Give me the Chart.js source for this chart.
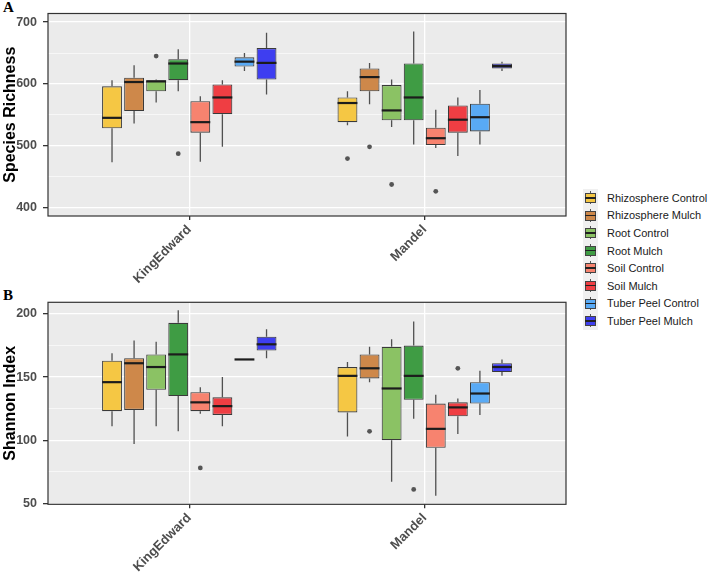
<!DOCTYPE html>
<html lang="en">
<head>
    <meta charset="UTF-8">
    <title>Species Richness and Shannon Index</title>
    <script src="https://cdn.jsdelivr.net/npm/chart.js"></script>
    <style>
        body {
            margin: 0;
            background: #fff;
            font-family: "Liberation Sans", Arial, sans-serif;
        }
        #wrap {
            position: relative;
            width: 709px;
            height: 577px;
        }
        #wrap canvas {
            position: absolute;
            left: 0;
        }
        .panel-label {
            position: absolute;
            left: 3px;
            font-family: "Liberation Serif", "DejaVu Serif", serif;
            font-weight: bold;
            font-size: 15px;
            line-height: 1;
        }
        #legend {
            position: absolute;
            left: 583px;
            top: 189px;
            white-space: nowrap;
        }
        .row {
            display: flex;
            align-items: center;
            height: 17.6px;
        }
        .key {
            position: relative;
            width: 15px;
            height: 17.6px;
            background: #f0f0f0;
            margin-right: 9px;
            flex: none;
        }
        .key .wh {
            position: absolute;
            left: 7px;
            top: 2px;
            width: 1px;
            height: 13px;
            background: #555;
        }
        .key .bx {
            position: absolute;
            left: 2px;
            top: 4px;
            width: 9px;
            height: 8px;
            border: 1px solid #444;
        }
        .key .md {
            position: absolute;
            left: 2px;
            top: 8px;
            width: 11px;
            height: 1.5px;
            background: #222;
        }
        .row span {
            font-size: 11px;
            color: #1a1a1a;
        }
    </style>
</head>
<body>
<div id="wrap">
    <div class="panel-label" style="top:0px">A</div>
    <div class="panel-label" style="top:288px">B</div>
    <canvas id="richChart" width="580" height="285" style="top:0px"></canvas>
    <canvas id="shanChart" width="580" height="292" style="top:285px"></canvas>
    <div id="legend"></div>
</div>

<script>
// groups (fill) and cultivars (x categories)
const groups = ['Rhizosphere Control', 'Rhizosphere Mulch', 'Root Control', 'Root Mulch',
                'Soil Control', 'Soil Mulch', 'Tuber Peel Control', 'Tuber Peel Mulch'];
const cultivars = ['KingEdward', 'Mandel'];
const groupColors = ['#F5C744', '#CE884A', '#8BC264', '#3F9C44',
                     '#F7836F', '#EF3E43', '#59AAF5', '#3E3EF0'];

// Species Richness, [cultivar][group]
const richMin = [[473, 536, 570, 588, 474, 498, 621, 583], [533, 567, 530, 502, 496, 483, 502, 621]];
const richQ1  = [[528, 556, 588, 606, 521, 551, 628, 607], [538, 588, 541, 541, 501, 521, 523, 625]];
const richMed = [[545, 603, 604, 633, 538, 578, 636, 634], [569, 611, 557, 578, 512, 542, 546, 629]];
const richQ3  = [[596, 610, 606, 640, 572, 599, 643, 658], [578, 625, 598, 633, 529, 565, 568, 633]];
const richMax = [[606, 630, 607, 656, 580, 606, 650, 683], [588, 634, 607, 685, 558, 578, 590, 636]];
// outliers: [cultivar, group, value]
const richOut = [[0, 2, 645], [0, 3, 487], [1, 0, 479], [1, 1, 498], [1, 2, 437], [1, 4, 426]];
const richTicks = [400, 500, 600, 700];

// Shannon Index, [cultivar][group]
const shanMin = [[111, 97, 111, 107, 121, 111, 164, 165], [103, 146, 67, 117, 56, 105, 120, 151]];
const shanQ1  = [[123, 124, 140, 135, 123, 120, 164, 171], [122, 149, 100, 132, 94, 119, 129, 154]];
const shanMed = [[146, 161, 158, 168, 130, 127, 164, 176], [151, 157, 141, 151, 109, 126, 137, 158]];
const shanQ3  = [[163, 165, 168, 193, 138, 134, 164, 182], [158, 168, 174, 175, 129, 130, 146, 161]];
const shanMax = [[169, 179, 178, 203, 142, 150, 164, 188], [162, 174, 180, 194, 136, 133, 155, 164]];
const shanOut = [[0, 4, 78], [1, 1, 107], [1, 3, 61], [1, 5, 157]];
const shanTicks = [50, 100, 150, 200];

// dodge: 8 boxes share 0.75 of each category slot
const dodgeWidth = 0.75;
function boxPos(c, g) {
    return (c + 1) - dodgeWidth / 2 + (g + 0.5) * dodgeWidth / groups.length;
}

const boxParts = {
    id: 'boxParts',
    beforeDraw(chart) {
        const a = chart.chartArea, ctx = chart.ctx;
        ctx.save();
        ctx.fillStyle = '#EBEBEB';
        ctx.fillRect(a.left, a.top, a.right - a.left, a.bottom - a.top);
        ctx.restore();
    },
    beforeDatasetsDraw(chart) {
        const st = chart.options.plugins.boxParts, y = chart.scales.y, ctx = chart.ctx;
        ctx.save();
        ctx.strokeStyle = '#505050';
        ctx.lineWidth = 1.3;
        groups.forEach((g, gi) => {
            chart.getDatasetMeta(gi).data.forEach((el, ci) => {
                ctx.beginPath();
                ctx.moveTo(el.x, y.getPixelForValue(st.max[ci][gi]));
                ctx.lineTo(el.x, y.getPixelForValue(st.q3[ci][gi]));
                ctx.moveTo(el.x, y.getPixelForValue(st.q1[ci][gi]));
                ctx.lineTo(el.x, y.getPixelForValue(st.min[ci][gi]));
                ctx.stroke();
            });
        });
        ctx.restore();
    },
    afterDatasetsDraw(chart) {
        const st = chart.options.plugins.boxParts, y = chart.scales.y, ctx = chart.ctx;
        ctx.save();
        ctx.strokeStyle = '#1c1c1c';
        ctx.lineWidth = 2.2;
        groups.forEach((g, gi) => {
            chart.getDatasetMeta(gi).data.forEach((el, ci) => {
                const py = y.getPixelForValue(st.med[ci][gi]);
                ctx.beginPath();
                ctx.moveTo(el.x - el.width / 2, py);
                ctx.lineTo(el.x + el.width / 2, py);
                ctx.stroke();
            });
        });
        const a = chart.chartArea;
        ctx.strokeStyle = '#333';
        ctx.lineWidth = 1.2;
        ctx.strokeRect(a.left, a.top, a.right - a.left, a.bottom - a.top);
        ctx.restore();
    }
};

function makeChart(id, st, out, majors, yMin, yMax, step, title, padTop, xHeight) {
    const datasets = groups.map((g, gi) => ({
        type: 'bar',
        label: g,
        data: cultivars.map((c, ci) => ({ x: boxPos(ci, gi), y: [st.q1[ci][gi], st.q3[ci][gi]] })),
        backgroundColor: groupColors[gi],
        borderColor: '#3a3a3a',
        borderWidth: 1.1,
        borderSkipped: false,
        grouped: false,
        categoryPercentage: 1,
        barPercentage: 0.9,
        order: 2
    }));
    datasets.push({
        type: 'scatter',
        label: 'outliers',
        data: out.map(o => ({ x: boxPos(o[0], o[1]), y: o[2] })),
        backgroundColor: '#555',
        borderWidth: 0,
        pointRadius: 2.4,
        order: 1
    });

    return new Chart(document.getElementById(id), {
        type: 'bar',
        data: { datasets: datasets },
        options: {
            responsive: false,
            animation: false,
            layout: { padding: { top: padTop, right: 14, left: 0, bottom: 0 } },
            plugins: {
                legend: { display: false },
                tooltip: { enabled: false },
                boxParts: st
            },
            scales: {
                x: {
                    type: 'linear',
                    min: 0.4,
                    max: 2.6,
                    offset: false,
                    afterBuildTicks: s => { s.ticks = [{ value: 1 }, { value: 2 }]; },
                    afterFit: s => { s.height = xHeight; },
                    border: { display: false },
                    grid: { offset: false, color: '#fff', lineWidth: 1.3, tickColor: '#333', tickLength: 4 },
                    ticks: {
                        autoSkip: false,
                        minRotation: 45,
                        maxRotation: 45,
                        padding: 2,
                        color: '#4D4D4D',
                        font: { family: 'Liberation Sans', size: 13, weight: 'bold' },
                        callback: v => cultivars[Math.round(v) - 1]
                    }
                },
                y: {
                    min: yMin,
                    max: yMax,
                    afterFit: s => { s.width = 48; },
                    border: { display: false },
                    grid: {
                        color: '#fff',
                        lineWidth: c => (c.tick && majors.includes(c.tick.value)) ? 1.3 : 0.6,
                        tickColor: c => (c.tick && majors.includes(c.tick.value)) ? '#333' : 'rgba(0,0,0,0)',
                        tickLength: 5
                    },
                    ticks: {
                        stepSize: step,
                        includeBounds: false,
                        padding: 6,
                        color: '#4D4D4D',
                        font: { family: 'Liberation Sans', size: 12.5, weight: 'bold' },
                        callback: v => majors.includes(v) ? String(v) : ''
                    },
                    title: {
                        display: true,
                        text: title,
                        color: '#000',
                        padding: { top: 1, bottom: 0 },
                        font: { family: 'Liberation Sans', size: 16, weight: 'bold' }
                    }
                }
            }
        },
        plugins: [boxParts]
    });
}

makeChart('richChart',
    { min: richMin, q1: richQ1, med: richMed, q3: richQ3, max: richMax },
    richOut, richTicks, 386, 714, 50, 'Species Richness', 13, 69);
makeChart('shanChart',
    { min: shanMin, q1: shanQ1, med: shanMed, q3: shanQ3, max: shanMax },
    shanOut, shanTicks, 49.2, 209.3, 25, 'Shannon Index', 17.3, 72.7);

// legend
const legend = document.getElementById('legend');
groups.forEach((g, gi) => {
    const row = document.createElement('div');
    row.className = 'row';
    row.innerHTML = '<div class="key"><div class="wh"></div><div class="bx" style="background:' +
        groupColors[gi] + '"></div><div class="md"></div></div><span>' + g + '</span>';
    legend.appendChild(row);
});
</script>
</body>
</html>
